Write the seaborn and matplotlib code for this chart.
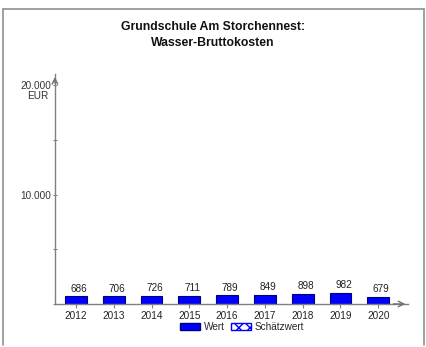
import pandas as pd
import seaborn as sns
import matplotlib.pyplot as plt
from matplotlib.lines import Line2D
from matplotlib.patches import Patch

# Werte aus dem Diagramm
jahre = ["2012", "2013", "2014", "2015", "2016", "2017", "2018", "2019", "2020"]
wert = [686, 706, 726, 711, 789, 849, 898, 982, 679]
y_ticks = [0, 5000, 10000, 15000, 20000]
y_labels = ["", "", "10.000", "", "20.000"]

df = pd.DataFrame({"Jahr": jahre, "Wert": wert})

sns.set_theme(style="white")
plt.rcParams['font.family'] = ['Liberation Sans', 'DejaVu Sans']

fs = 7.2
fig = plt.figure(figsize=(4.26, 3.47), dpi=100)
ax = fig.add_axes([0.129, 0.124, 0.829, 0.662])

sns.barplot(data=df, x="Jahr", y="Wert", color="#0000ff", saturation=1,
            width=0.58, edgecolor="#000080", linewidth=0.8, ax=ax)

for i, v in enumerate(wert):
    ax.text(i + 0.08, v + 250, f"{v}", ha="center", va="bottom",
            fontsize=fs, color="#222222")

ax.set_xlim(-0.556, 8.79)
ax.set_ylim(0, 21000)
ax.set_yticks(y_ticks)
ax.set_yticklabels(y_labels, fontsize=fs, color="#333333")
ax.annotate("EUR", xy=(0, 20000), xycoords=("axes fraction", "data"),
            xytext=(-5, -4), textcoords="offset points",
            ha="right", va="top", fontsize=fs, color="#333333")
ax.tick_params(axis="x", labelsize=fs, labelcolor="#222222", length=3,
               width=0.8, color="#808080", direction="out", pad=2, bottom=True)
ax.tick_params(axis="y", length=3, width=0.8, color="#808080",
               direction="inout", pad=1, left=True)
ax.set_xlabel("")
ax.set_ylabel("")

for s in ["top", "right"]:
    ax.spines[s].set_visible(False)
for s in ["left", "bottom"]:
    ax.spines[s].set_color("#808080")
    ax.spines[s].set_linewidth(1.0)

# Pfeilspitzen an den Achsen
arrow = dict(arrowstyle="->", color="#707070", lw=1.0, mutation_scale=10)
ax.annotate("", xy=(1.0, 0), xytext=(0.95, 0), xycoords="axes fraction",
            arrowprops=arrow, annotation_clip=False)
ax.annotate("", xy=(0, 1.0), xytext=(0, 0.95), xycoords="axes fraction",
            arrowprops=arrow, annotation_clip=False)

fig.suptitle("Grundschule Am Storchennest:\nWasser-Bruttokosten", y=0.94,
             fontsize=8.8, fontweight="bold", color="#111111", linespacing=1.45)

# Rahmen
fig.add_artist(Line2D([3/426, 3/426], [2/347, 338/347], color="#909090", lw=1.2))
fig.add_artist(Line2D([3/426, 424/426], [338/347, 338/347], color="#909090", lw=1.2))
fig.add_artist(Line2D([424/426, 424/426], [2/347, 338/347], color="#909090", lw=1.2))

handles = [Patch(facecolor="#0000ff", edgecolor="#000080", label="Wert"),
           Patch(facecolor="white", edgecolor="#0000ff", hatch="xxx", label="Schätzwert")]
fig.legend(handles=handles, loc="center", bbox_to_anchor=(0.568, 0.058), ncol=2,
           frameon=False, fontsize=fs, handlelength=2.0, handleheight=0.8,
           columnspacing=0.6, handletextpad=0.4)

fig.savefig("out.png", dpi=100)
